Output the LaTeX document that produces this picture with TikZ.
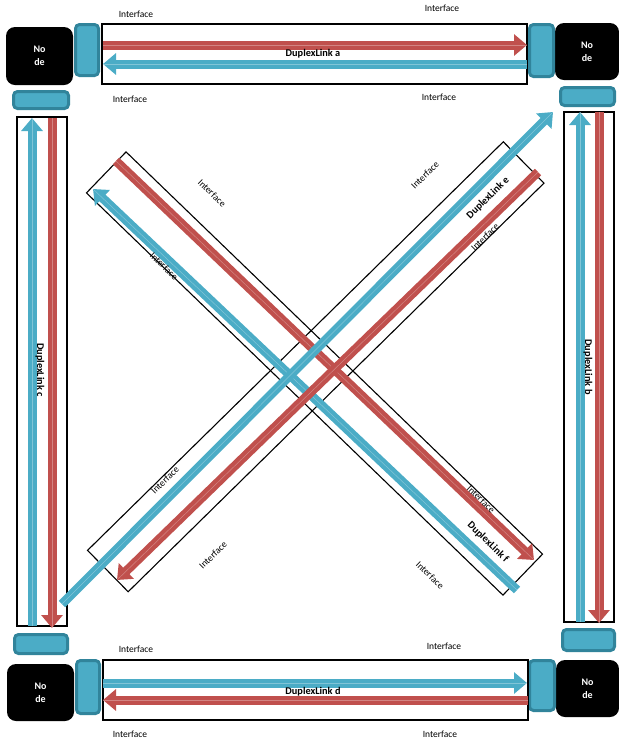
\documentclass[tikz,border=0pt]{standalone}
\usepackage{fontspec}
\setmainfont{Carlito}
\usetikzlibrary{arrows.meta}

\definecolor{linkred}{HTML}{C0504D}
\definecolor{linkblue}{HTML}{4BACC6}
\definecolor{portedge}{HTML}{31849B}

\begin{document}
\begin{tikzpicture}[x=1pt, y=-1pt,
    hub/.style={fill=black, rounded corners=9pt, text=white, align=center,
        inner sep=0pt, font=\fontsize{10}{13}\selectfont\bfseries},
    port/.style={draw=portedge, fill=linkblue, line width=3pt,
        rounded corners=4pt, inner sep=0pt},
    linkbox/.style={draw, line width=1.1pt, inner sep=0pt},
    flow/.style={line width=9pt, -{Triangle[width=21pt,length=13pt]},
        postaction={draw=white, draw opacity=.3, line width=.5pt, -}},
    redflow/.style={flow, draw=linkred},
    blueflow/.style={flow, draw=linkblue},
    iflabel/.style={font=\fontsize{9.5}{11}\selectfont},
    linklabel/.style={font=\fontsize{10.3}{12}\selectfont\bfseries}]
    \useasboundingbox (0,0) rectangle (619,740);

    % Nodes
    \node[hub, minimum width=67pt, minimum height=58pt] (hubA) at (39.5,56) {No\\de};
    \node[hub, minimum width=64pt, minimum height=57pt] (hubB) at (587,51.5) {No\\de};
    \node[hub, minimum width=67pt, minimum height=57pt] (hubC) at (40.5,692.5) {No\\de};
    \node[hub, minimum width=63pt, minimum height=57pt] (hubD) at (587.5,688.5) {No\\de};

    % Interfaces
    \node[port, minimum width=23pt, minimum height=51pt] (portA1) at (87,50) {};
    \node[port, minimum width=55pt, minimum height=17pt] (portA2) at (41,100) {};
    \node[port, minimum width=24pt, minimum height=52pt] (portB1) at (541.5,50.5) {};
    \node[port, minimum width=54pt, minimum height=18pt] (portB2) at (587.5,96.5) {};
    \node[port, minimum width=53pt, minimum height=19pt] (portC1) at (41,644) {};
    \node[port, minimum width=23pt, minimum height=53pt] (portC2) at (88,687) {};
    \node[port, minimum width=52pt, minimum height=21pt] (portD1) at (588.5,640) {};
    \node[port, minimum width=25pt, minimum height=50pt] (portD2) at (542,685.5) {};

    % Link boxes
    \node[linkbox, minimum width=425pt, minimum height=60pt] (linkA) at (314.5,54) {};
    \node[linkbox, minimum width=425pt, minimum height=60pt] (linkD) at (315.5,690) {};
    \node[linkbox, minimum width=50pt, minimum height=509pt] (linkC) at (42,371.5) {};
    \node[linkbox, minimum width=50pt, minimum height=510pt] (linkB) at (589,367) {};
    \node[linkbox, minimum width=579pt, minimum height=57pt, rotate=-44] (linkF) at (314.5,373.5) {};
    \node[linkbox, minimum width=583pt, minimum height=58pt, rotate=44.5] (linkE) at (315.75,366.75) {};

    % Flow end points
    \coordinate (aR1) at (103,45);  \coordinate (aR2) at (527,45);
    \coordinate (aB1) at (527,64);  \coordinate (aB2) at (103,64);
    \coordinate (dB1) at (103,683); \coordinate (dB2) at (527,683);
    \coordinate (dR1) at (528,700); \coordinate (dR2) at (103,700);
    \coordinate (cB1) at (32,626);  \coordinate (cB2) at (32,118);
    \coordinate (cR1) at (52,118);  \coordinate (cR2) at (52,628);
    \coordinate (bB1) at (580,622); \coordinate (bB2) at (580,112);
    \coordinate (bR1) at (599,112); \coordinate (bR2) at (599,623);
    \coordinate (fR1) at (116,161); \coordinate (fR2) at (534,560);
    \coordinate (fB1) at (517,590); \coordinate (fB2) at (93,189);
    \coordinate (eR1) at (538,172); \coordinate (eR2) at (117,580);
    \coordinate (eB1) at (62,604);  \coordinate (eB2) at (553,112);

    % Flows
    \draw[redflow] (aR1) -- (aR2);
    \draw[blueflow] (aB1) -- (aB2);
    \draw[blueflow] (dB1) -- (dB2);
    \draw[redflow] (dR1) -- (dR2);
    \draw[blueflow] (cB1) -- (cB2);
    \draw[redflow] (cR1) -- (cR2);
    \draw[blueflow] (bB1) -- (bB2);
    \draw[redflow] (bR1) -- (bR2);
    \draw[redflow] (fR1) -- (fR2);
    \draw[blueflow] (fB1) -- (fB2);
    \draw[redflow] (eR1) -- (eR2);
    \draw[blueflow] (eB1) -- (eB2);

    % Link labels
    \node[linklabel] (labA) at (313,54) {DuplexLink a};
    \node[linklabel] (labD) at (313,692) {DuplexLink d};
    \node[linklabel, rotate=-90] (labC) at (40,370) {DuplexLink c};
    \node[linklabel, rotate=-90] (labB) at (588,367) {DuplexLink b};
    \node[linklabel, rotate=44.5] (labE) at (488,198) {DuplexLink e};
    \node[linklabel, rotate=-44] (labF) at (488,542) {DuplexLink f};

    % Interface labels
    \node[iflabel] (ifA1) at (136,14) {Interface};
    \node[iflabel] (ifA2) at (442,8) {Interface};
    \node[iflabel] (ifA3) at (130,99) {Interface};
    \node[iflabel] (ifA4) at (439,97) {Interface};
    \node[iflabel] (ifD1) at (136,649) {Interface};
    \node[iflabel] (ifD2) at (444,646) {Interface};
    \node[iflabel] (ifD3) at (130,734) {Interface};
    \node[iflabel] (ifD4) at (440,734) {Interface};
    \node[iflabel, rotate=-44] (ifF1) at (212,193) {Interface};
    \node[iflabel, rotate=-44] (ifF2) at (164,266) {Interface};
    \node[iflabel, rotate=-44] (ifF3) at (481,499) {Interface};
    \node[iflabel, rotate=-44] (ifF4) at (430,575) {Interface};
    \node[iflabel, rotate=44.5] (ifE1) at (425,175) {Interface};
    \node[iflabel, rotate=44.5] (ifE2) at (485,237) {Interface};
    \node[iflabel, rotate=44.5] (ifE3) at (165,480) {Interface};
    \node[iflabel, rotate=44.5] (ifE4) at (213,555) {Interface};
\end{tikzpicture}
\end{document}
